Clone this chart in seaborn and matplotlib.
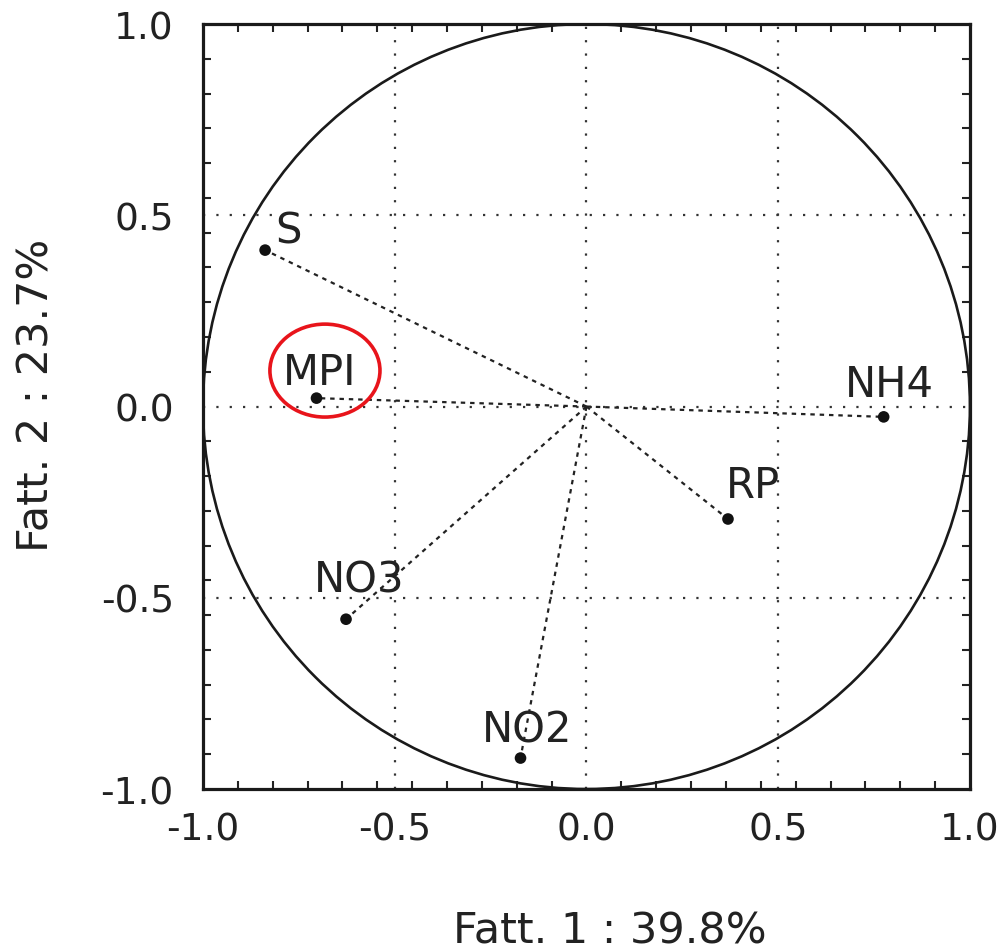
import numpy as np
import pandas as pd
import seaborn as sns
import matplotlib
matplotlib.use("Agg")
import matplotlib.pyplot as plt
from matplotlib.patches import Circle, Ellipse
from matplotlib.ticker import FixedLocator

# Loadings delle variabili sui primi due fattori
variabili = ["S", "MPI", "NH4", "RP", "NO3", "NO2"]
fatt1 = [-0.838, -0.704, 0.775, 0.369, -0.627, -0.172]
fatt2 = [0.409, 0.022, -0.027, -0.294, -0.556, -0.919]

tick_vals = [-1.0, -0.5, 0.0, 0.5, 1.0]
tick_labels = ["-1.0", "-0.5", "0.0", "0.5", "1.0"]

xlab = "Fatt. 1 : 39.8%"
ylab = "Fatt. 2 : 23.7%"

dati = pd.DataFrame({"var": variabili, "f1": fatt1, "f2": fatt2})

# spostamento delle etichette rispetto al punto (pixel)
offset_etichette = {
    "S": (23, 8), "MPI": (3, 14), "NH4": (6, 21),
    "RP": (25, 22), "NO3": (13, 28), "NO2": (7, 17),
}

sns.set_style("white")
plt.rcParams["font.family"] = ["DejaVu Sans"]
plt.rcParams["axes.unicode_minus"] = False

fig = plt.figure(figsize=(9.98, 9.53), dpi=100)
ax = fig.add_axes([0.2034, 0.171, 0.7685, 0.8027])

# griglia punteggiata
for v in [-0.5, 0.0, 0.5]:
    ax.axvline(v, color="#333333", lw=1.6, ls=(0, (1, 5)), zorder=1)
    ax.axhline(v, color="#333333", lw=1.6, ls=(0, (1, 5)), zorder=1)

# cerchio delle correlazioni
ax.add_patch(Circle((0, 0), 1.0, fill=False, ec="#1a1a1a", lw=1.9, zorder=2))

# vettori dall'origine
for _, r in dati.iterrows():
    ax.plot([0, r.f1], [0, r.f2], color="#222222", lw=1.6,
            ls=(0, (2, 2.2)), zorder=3)

sns.scatterplot(data=dati, x="f1", y="f2", ax=ax, color="#111111",
                s=70, edgecolor="none", zorder=4, legend=False)

for _, r in dati.iterrows():
    dx, dy = offset_etichette[r["var"]]
    ax.annotate(r["var"], (r.f1, r.f2), xytext=(dx, dy),
                textcoords="offset pixels", ha="center", va="baseline",
                fontsize=30, color="#222222", zorder=5)

# evidenziazione di MPI
ax.add_patch(Ellipse((-0.682, 0.094), 0.287, 0.243, fill=False,
                     ec="#e8141b", lw=2.6, zorder=6))

ax.set_xlim(-1, 1)
ax.set_ylim(-1, 1)
ax.set_xticks(tick_vals)
ax.set_xticklabels(tick_labels)
ax.set_yticks(tick_vals)
ax.set_yticklabels(tick_labels)
minori = np.arange(-1, 1.0001, 2 / 22)
ax.xaxis.set_minor_locator(FixedLocator(minori))
ax.yaxis.set_minor_locator(FixedLocator(minori))
ax.tick_params(which="major", length=0, labelsize=27, colors="#222222")
ax.tick_params(axis="x", which="major", pad=16)
ax.tick_params(axis="y", which="major", pad=21)
ax.tick_params(which="minor", direction="in", length=6, width=1.5,
               top=True, right=True, bottom=True, left=True, color="#222222")

for sp in ax.spines.values():
    sp.set_linewidth(2.3)
    sp.set_color("#1a1a1a")

ax.set_xlabel(xlab, fontsize=31, color="#222222")
ax.set_ylabel(ylab, fontsize=31, color="#222222")
ax.xaxis.set_label_coords(0.531, -0.158)
ax.yaxis.set_label_coords(-0.19, 0.516)

fig.savefig("out.png", dpi=100, facecolor="white")
